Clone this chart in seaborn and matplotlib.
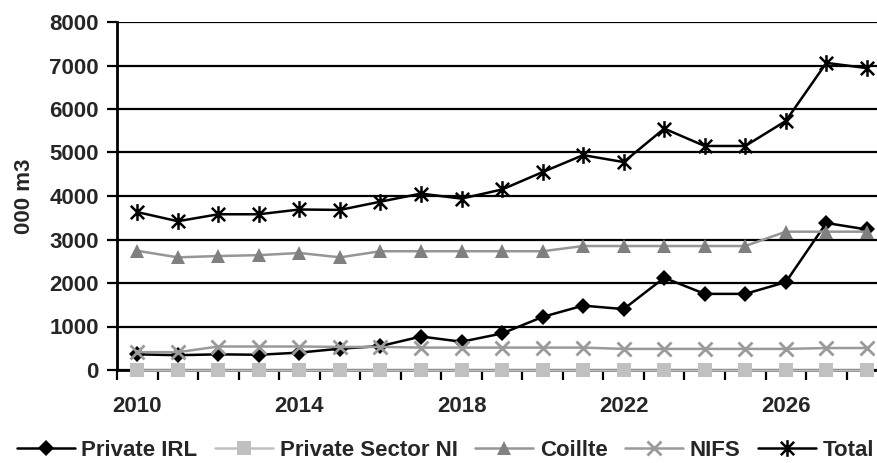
import numpy as np
import pandas as pd
import seaborn as sns
from matplotlib import pyplot as plt
from matplotlib.path import Path
from matplotlib.ticker import FixedLocator

years = list(range(2010, 2029))

private_irl = [360, 340, 360, 350, 400, 490, 550, 770, 650, 840,
               1220, 1480, 1400, 2120, 1750, 1750, 2020, 3380, 3230]
private_ni = [5, 5, 5, 5, 5, 5, 5, 5, 5, 5,
              5, 5, 5, 5, 5, 5, 5, 5, 5]
coillte = [2740, 2590, 2620, 2640, 2690, 2590, 2730, 2730, 2730, 2730,
           2730, 2850, 2850, 2850, 2850, 2850, 3180, 3180, 3180]
nifs = [410, 410, 540, 540, 540, 530, 530, 515, 515, 515,
        515, 515, 485, 485, 485, 485, 485, 505, 505]
total = [3630, 3420, 3580, 3580, 3690, 3680, 3870, 4055, 3940, 4150,
         4550, 4940, 4780, 5550, 5150, 5150, 5725, 7060, 6940]

series_names = ["Private IRL", "Private Sector NI", "Coillte", "NIFS", "Total"]
tick_years = [2010, 2014, 2018, 2022, 2026]

# Excel style asterisk marker: an x with a vertical bar
star = Path([(-1, -1), (1, 1), (-1, 1), (1, -1), (0, -1.25), (0, 1.25)],
            [Path.MOVETO, Path.LINETO, Path.MOVETO, Path.LINETO, Path.MOVETO, Path.LINETO])

styles = {
    "Private IRL": dict(color="black", marker="D", markersize=8, mfc="black", mec="black"),
    "Private Sector NI": dict(color="#c0c0c0", marker="s", markersize=9.5, mfc="#c0c0c0", mec="#c0c0c0"),
    "Coillte": dict(color="#969696", marker="^", markersize=10.5, mfc="#808080", mec="#808080"),
    "NIFS": dict(color="#9a9a9a", marker="x", markersize=10, mfc="none", mec="#9a9a9a", mew=2),
    "Total": dict(color="black", marker=star, markersize=12, mfc="none", mec="black", mew=1.8),
}

df = pd.DataFrame({"year": years, "Private IRL": private_irl, "Private Sector NI": private_ni,
                   "Coillte": coillte, "NIFS": nifs, "Total": total})

sns.set_style("white")
plt.rcParams['font.family'] = ['Liberation Sans', 'DejaVu Sans']
plt.rcParams['font.weight'] = 'bold'
fs = 16

fig = plt.figure(figsize=(8.77, 4.63), dpi=100)
ax = fig.add_axes([117 / 877, 1 - 370 / 463, 1 - 117 / 877, (370 - 22) / 463])

for name in series_names:
    st = dict(styles[name])
    sns.lineplot(data=df, x="year", y=name, ax=ax, label=name, linewidth=1.8,
                 color=st.pop("color"), marker=st.pop("marker"), markersize=st.pop("markersize"),
                 markerfacecolor=st.pop("mfc"), markeredgecolor=st.pop("mec"),
                 markeredgewidth=st.pop("mew", 0), legend=False, clip_on=False, zorder=3)

ax.set_xlim(2009.5, 2028.25)
ax.set_ylim(0, 8000)
ax.set_yticks(np.arange(0, 8001, 1000))
ax.yaxis.grid(True, color="black", linewidth=1.6)
ax.set_axisbelow(True)

ax.set_xticks(tick_years)
ax.xaxis.set_minor_locator(FixedLocator(np.arange(2009.5, 2029, 1)))
ax.tick_params(axis="x", which="major", length=0, pad=19, labelsize=fs)
ax.tick_params(axis="x", which="minor", length=7, width=1.6, color="black", direction="out")
ax.tick_params(axis="y", length=7, width=1.6, color="black", direction="out", pad=6, labelsize=fs)
ax.tick_params(bottom=True, left=True, which="both")

for s in ["top", "right"]:
    ax.spines[s].set_visible(False)
for s in ["left", "bottom"]:
    ax.spines[s].set_color("black")
    ax.spines[s].set_linewidth(2)

ax.set_xlabel("")
ax.set_ylabel("000 m3", fontsize=fs, fontweight="bold", labelpad=10)

handles, labels = ax.get_legend_handles_labels()
fig.legend(handles, labels, loc="lower center", bbox_to_anchor=(0.508, -0.025), ncol=5,
           frameon=False, fontsize=fs, handlelength=2.6, handletextpad=0.3,
           columnspacing=0.8, borderaxespad=0.2)

fig.savefig("out.png", dpi=100)
